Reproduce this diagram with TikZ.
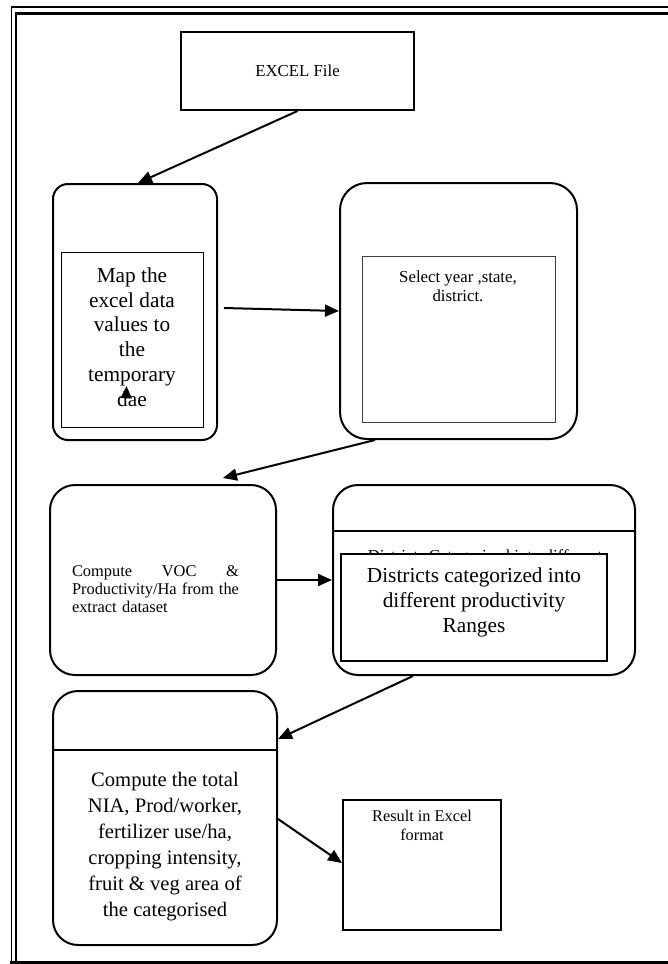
\documentclass[tikz,border=0pt]{standalone}
\usepackage{fontspec}
\setmainfont{Liberation Serif}
\usetikzlibrary{arrows.meta,calc}
\tikzset{
  box/.style={draw, line width=2pt, inner sep=0pt, rectangle},
  thinbox/.style={draw, line width=0.9pt, inner sep=0pt, rectangle},
  conn/.style={line width=2pt, -{Triangle[length=14pt,width=12pt]}},
  big/.style={font=\fontsize{21.3}{24.8}\selectfont, align=center, inner sep=0pt},
  small/.style={font=\fontsize{16.8}{19}\selectfont, align=center, inner sep=0pt},
}
\begin{document}
\begin{tikzpicture}[x=1pt,y=-1pt]
\useasboundingbox (0,0) rectangle (668,964);
% frame
\draw[line width=1.8pt] (11.5,964) -- (11.5,7) -- (668,7);
\draw[line width=2.6pt] (16,961) -- (16,13.3) -- (668,13.3);
\draw[line width=3pt] (10,962.5) -- (668,962.5);

% EXCEL file
\node[box, small, minimum width=233pt, minimum height=78pt] (excel) at (297.5,71) {EXCEL File};

% Map box
\node[box, rounded corners=15pt, minimum width=164pt, minimum height=256pt] (map) at (135,312) {};
\node[thinbox, minimum width=142pt, minimum height=175pt] (mapin) at (132,339.5) {};
\node[big] (maptxt) at (132,337) {Map the\\excel data\\values to\\the\\temporary\\dae};
\fill (126.5,386) -- (120.5,398) -- (132,398.5) -- cycle;

% Select box
\node[box, rounded corners=27pt, minimum width=237pt, minimum height=256pt] (select) at (458.5,311) {};
\node[thinbox, draw=black!75, minimum width=193pt, minimum height=166pt] (selin) at (458.5,339) {};
\node[small] (seltxt) at (458,286.5) {Select year ,state,\\district.};

% VOC box
\node[box, rounded corners=25pt, minimum width=226pt, minimum height=190pt] (voc) at (163,580) {};
\node[inner sep=0pt, text width=167pt, align=left, font=\fontsize{16.4}{18}\selectfont] (voctxt) at (155.5,589)
  {\makebox[167pt][l]{Compute\hfill VOC\hfill\&}\\\makebox[167pt][l]{Productivity/Ha\hfill from\hfill the}\\extract dataset};

% Districts box
\node[box, rounded corners=25pt, minimum width=302pt, minimum height=190pt] (dist) at (484,580) {};
\draw[line width=2pt] (dist.west |- 0,531) -- (dist.east |- 0,531);
\node[anchor=base, inner sep=0pt, font=\fontsize{16.8}{19}\selectfont] (hidtxt) at (485,561) {Districts Categorized into different};
\node[box, fill=white, minimum width=266pt, minimum height=107pt] (distin) at (474,607.5) {};
\node[big] (distintxt) at (474,602.5) {Districts categorized into\\different productivity\\Ranges};

% Total box
\node[box, rounded corners=25pt, minimum width=224pt, minimum height=254pt] (total) at (165,818) {};
\draw[line width=2pt] (total.west |- 0,750) -- (total.east |- 0,750);
\node[font=\fontsize{20.6}{26}\selectfont, align=center, inner sep=0pt] (totaltxt) at (165,847)
  {Compute the total\\NIA, Prod/worker,\\fertilizer use/ha,\\cropping intensity,\\fruit \& veg area of\\the categorised};

% Result box
\node[box, minimum width=158pt, minimum height=130pt] (result) at (422,865) {};
\node[small, font=\fontsize{16.3}{19}\selectfont] (restxt) at (422,825.5) {Result in Excel\\format};

% connectors
\draw[conn] (excel.south) -- ($(map.north)+(3,0)$);
\draw[conn] ($(map.east)+(6,-4)$) -- (select.west);
\draw[conn] ($(select.south)+(-83.5,0)$) -- ($(voc.north)+(60,-6)$);
\draw[conn] (voc.east) -- (dist.west);
\draw[conn] ($(dist.south)+(-71,0)$) -- ($(total.north east)+(0,49)$);
\draw[conn] ($(total.east)+(0,1)$) -- ($(result.west)+(0,-2)$);
\end{tikzpicture}
\end{document}
